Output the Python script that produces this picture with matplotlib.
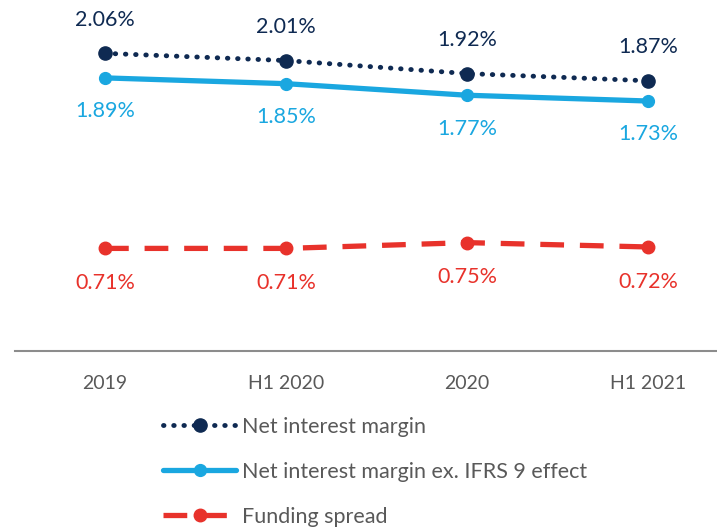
import matplotlib.pyplot as plt
from matplotlib.lines import Line2D

plt.rcParams['font.family'] = ['Lato', 'DejaVu Sans']

# data
periods = ["2019", "H1 2020", "2020", "H1 2021"]
nim = [2.06, 2.01, 1.92, 1.87]
nim_ex_ifrs9 = [1.89, 1.85, 1.77, 1.73]
funding_spread = [0.71, 0.71, 0.75, 0.72]

navy = "#0F2A52"
blue = "#1AA7E0"
red = "#E8322B"
grey = "#595959"

fig = plt.figure(figsize=(7.17, 5.30), dpi=100)
ax = fig.add_axes([15 / 717, 1 - 351 / 530, 1 - 15 / 717, 351 / 530])

x = list(range(len(periods)))

ax.plot(x, nim, color=navy, lw=3.5, linestyle=(0, (0.1, 2.0)), dash_capstyle="round",
        marker="o", ms=9.5, zorder=3)
ax.plot(x, nim_ex_ifrs9, color=blue, lw=3.8, solid_capstyle="round",
        marker="o", ms=8.5, zorder=3)
ax.plot(x, funding_spread, color=red, lw=3.8, linestyle=(0, (4.5, 3)),
        marker="o", ms=9, zorder=3)

for xi, v in zip(x, nim):
    ax.annotate(f"{v:.2f}%", (xi, v), xytext=(0, 24), textcoords="offset points",
                ha="center", va="center", color=navy, fontsize=15.5)
for xi, v in zip(x, nim_ex_ifrs9):
    ax.annotate(f"{v:.2f}%", (xi, v), xytext=(0, -24), textcoords="offset points",
                ha="center", va="center", color=blue, fontsize=15.5)
for xi, v in zip(x, funding_spread):
    ax.annotate(f"{v:.2f}%", (xi, v), xytext=(0, -25), textcoords="offset points",
                ha="center", va="center", color=red, fontsize=15.5)

ax.set_xlim((15 - 105) / 181, (717 - 105) / 181)
ax.set_ylim(0, 351 / 144.5)
ax.set_xticks(x)
ax.set_xticklabels(periods, fontsize=14, color=grey)
ax.tick_params(axis="x", length=0, pad=17)
ax.set_yticks([])
for s in ["top", "left", "right"]:
    ax.spines[s].set_visible(False)
ax.spines["bottom"].set_color("#8C8C8C")
ax.spines["bottom"].set_linewidth(1.5)

handles = [
    Line2D([], [], color=navy, lw=3.5, linestyle=(0, (0.1, 2.0)), dash_capstyle="round",
           marker="o", ms=9.5),
    Line2D([], [], color=blue, lw=3.8, solid_capstyle="round", marker="o", ms=8.5),
    Line2D([], [], color=red, lw=3.8, linestyle=(0, (4.5, 3)), marker="o", ms=9),
]
labels = ["Net interest margin", "Net interest margin ex. IFRS 9 effect", "Funding spread"]
fig.legend(handles, labels, loc="upper left", bbox_to_anchor=(163 / 717, 1 - 417 / 530),
           frameon=False, fontsize=15.5, handlelength=3.4, handletextpad=0.25,
           labelspacing=1.16, labelcolor=grey, borderaxespad=0, borderpad=0)

fig.savefig("out.png", dpi=100)
